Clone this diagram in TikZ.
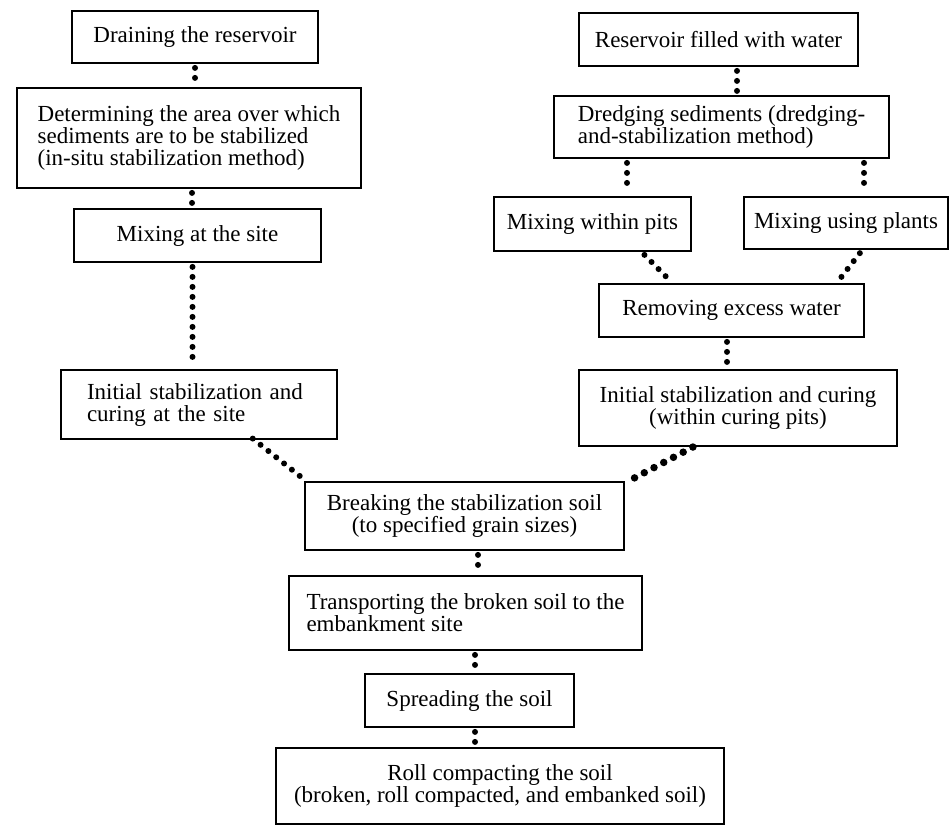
\documentclass[tikz,border=0pt]{standalone}
\usepackage{fontspec}
\setmainfont{Liberation Serif}
\begin{document}
\begin{tikzpicture}[x=1pt,y=-1pt,
  box/.style={draw, line width=2.8pt, inner sep=0pt, font=\fontsize{23}{22}\selectfont, align=center},
  lbox/.style={box, align=left},
  dots/.style={line width=6pt, line cap=round, dash pattern=on 0pt off 10pt, shorten >=3.5pt, shorten <=3.5pt},
  bigdots/.style={dots, line width=7.5pt, dash pattern=on 0pt off 11pt}]
\useasboundingbox (0,0) rectangle (949,827);
% left column
\node[box, minimum width=246pt, minimum height=52pt] (drain) at (195,37) {Draining the reservoir};
\node[lbox, minimum width=344pt, minimum height=100pt] (determ) at (189,138)
  {Determining the area over which\\sediments are to be stabilized\\(in-situ stabilization method)};
\node[box, minimum width=247pt, minimum height=53pt] (mixsite) at (197.5,235.5) {Mixing at the site};
\node[lbox, minimum width=276pt, minimum height=69pt, text width=224pt] (initL) at (199,404.5)
  {Initial stabilization and\\curing at the site};
% right column
\node[box, minimum width=279pt, minimum height=53pt] (resv) at (718.5,39.5) {Reservoir filled with water};
\node[lbox, minimum width=335pt, minimum height=62pt] (dredge) at (721.5,127)
  {Dredging sediments (dredging-\\and-stabilization method)};
\node[box, minimum width=197pt, minimum height=54pt] (mixpit) at (592.5,224) {Mixing within pits};
\node[box, minimum width=204pt, minimum height=52pt] (mixplant) at (846,223) {Mixing using plants};
\node[box, minimum width=265pt, minimum height=53pt] (remove) at (731.5,310.5) {Removing excess water};
\node[box, minimum width=318pt, minimum height=76pt] (initR) at (738,408)
  {Initial stabilization and curing\\(within curing pits)};
% bottom column
\node[box, minimum width=319pt, minimum height=68pt] (break) at (464.5,516)
  {Breaking the stabilization soil\\(to specified grain sizes)};
\node[lbox, minimum width=353pt, minimum height=74pt] (transp) at (465.5,613)
  {Transporting the broken soil to the\\embankment site};
\node[box, minimum width=209pt, minimum height=53pt] (spread) at (469.5,700.5) {Spreading the soil};
\node[box, minimum width=448pt, minimum height=76pt] (roll) at (500,786)
  {Roll compacting the soil\\(broken, roll compacted, and embanked soil)};
% connectors
\draw[dots] (drain.south) -- (drain.south |- determ.north);
\draw[dots] ([xshift=-5.5pt]mixsite.north |- determ.south) -- ([xshift=-5.5pt]mixsite.north);
\draw[dots] ([xshift=-5pt]mixsite.south) -- ([xshift=-5pt]mixsite.south |- initL.north);
\draw[dots] ([xshift=18.5pt]resv.south) -- ([xshift=18.5pt]resv.south |- dredge.north);
\draw[dots] ([xshift=34.5pt]mixpit.north |- dredge.south) -- ([xshift=34.5pt]mixpit.north);
\draw[dots] ([xshift=18pt]mixplant.north |- dredge.south) -- ([xshift=18pt]mixplant.north);
\draw[dots] ([xshift=49.5pt]mixpit.south) -- ([xshift=-59.5pt]remove.north);
\draw[dots] ([xshift=16pt]mixplant.south) -- ([xshift=105.5pt]remove.north);
\draw[dots] ([xshift=-4.5pt]remove.south) -- ([xshift=-4.5pt]remove.south |- initR.north);
\draw[dots] ([xshift=51pt,yshift=4pt]initL.south) -- ([xshift=2pt]break.north west);
\draw[bigdots] ([xshift=-42pt,yshift=2pt]initR.south) -- ([xshift=4pt]break.north east);
\draw[dots] ([xshift=13.5pt]break.south) -- ([xshift=13.5pt]break.south |- transp.north);
\draw[dots] ([xshift=5.5pt]spread.north |- transp.south) -- ([xshift=5.5pt]spread.north);
\draw[dots] ([xshift=5.5pt]spread.south) -- ([xshift=5.5pt]spread.south |- roll.north);
\end{tikzpicture}
\end{document}
